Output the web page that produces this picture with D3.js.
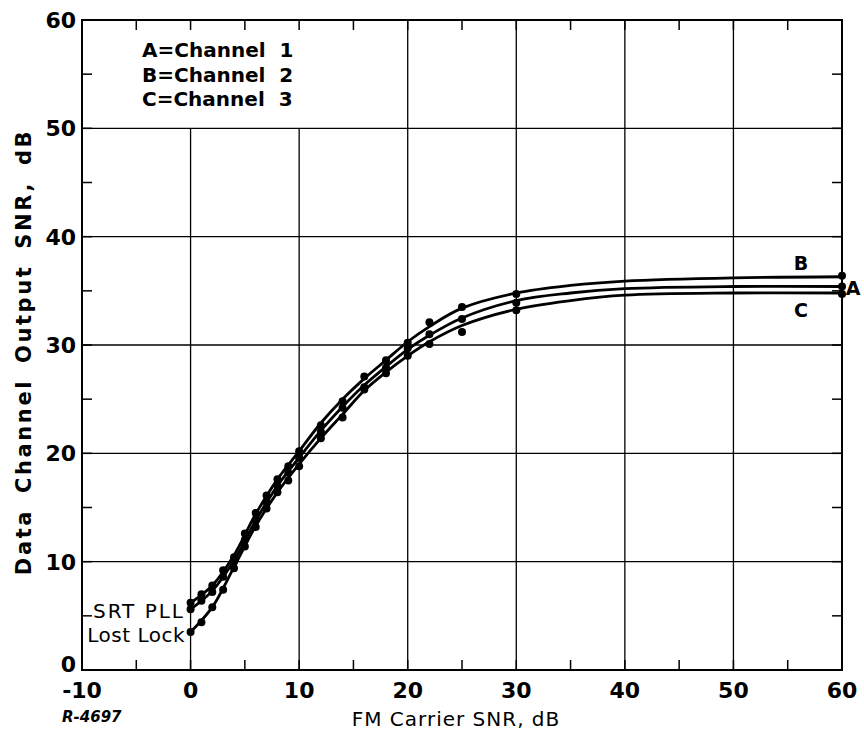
<!DOCTYPE html>
<html>
<head>
<meta charset="utf-8">
<script src="https://cdn.jsdelivr.net/npm/d3@7"></script>
<style>
  body { margin: 0; background: #fff; }
  svg { display: block; font-family: 'DejaVu Sans', sans-serif; }
</style>
</head>
<body>
<svg id="chart" width="864" height="732"></svg>
<script>
// measured points (FM carrier SNR, dB -> data channel output SNR, dB)
const pointX = [0, 1, 2, 3, 4, 5, 6, 7, 8, 9, 10, 12, 14, 16, 18, 20, 22, 25, 30, 60]
const pointsA = [5.6, 6.4, 7.2, 8.6, 10.0, 12.0, 13.8, 15.5, 17.0, 18.2, 19.6, 22.0, 24.2, 26.1, 27.9, 29.7, 31.0, 32.4, 33.9, 35.4]
const pointsB = [6.2, 7.0, 7.8, 9.2, 10.4, 12.6, 14.5, 16.1, 17.6, 18.8, 20.2, 22.6, 24.8, 27.1, 28.6, 30.2, 32.1, 33.5, 34.7, 36.4]
const pointsC = [3.5, 4.4, 5.8, 7.4, 9.4, 11.4, 13.2, 14.9, 16.4, 17.5, 18.8, 21.4, 23.3, 25.9, 27.4, 29.0, 30.1, 31.2, 33.2, 34.7]

// faired curves
const curveX = [0, 2, 4, 6, 8, 10, 12, 14, 16, 18, 20, 22, 25, 30, 35, 40, 50, 60]
const curveA = [5.6, 7.3, 10.1, 13.8, 17.0, 19.6, 22.1, 24.3, 26.3, 28.0, 29.6, 30.9, 32.5, 34.1, 34.8, 35.2, 35.4, 35.4]
const curveB = [6.2, 7.8, 10.6, 14.4, 17.6, 20.2, 22.8, 25.0, 26.9, 28.6, 30.3, 31.7, 33.4, 34.8, 35.5, 35.9, 36.2, 36.3]
const curveC = [3.5, 5.8, 9.5, 13.3, 16.4, 19.0, 21.4, 23.6, 25.8, 27.5, 29.0, 30.3, 31.8, 33.3, 34.1, 34.6, 34.8, 34.8]

const xTicks = [-10, 0, 10, 20, 30, 40, 50, 60]
const yTicks = [0, 10, 20, 30, 40, 50, 60]
const legendLines = ['A=Channel  1', 'B=Channel  2', 'C=Channel  3']

const svg = d3.select('#chart')
const x = d3.scaleLinear().domain([-10, 60]).range([82, 842])
const y = d3.scaleLinear().domain([0, 60]).range([670, 20])

// grid (legend corner -10..10 x 50..60 left blank)
const grid = svg.append('g').attr('stroke', '#000').attr('stroke-width', 1.3)
grid.selectAll('.vg').data(xTicks.slice(1, -1)).enter().append('line')
    .attr('x1', d => x(d)).attr('x2', d => x(d))
    .attr('y1', y(0)).attr('y2', d => d <= 10 ? y(50) : y(60))
grid.selectAll('.hg').data(yTicks.slice(1, -1)).enter().append('line')
    .attr('x1', x(-10)).attr('x2', x(60))
    .attr('y1', d => y(d)).attr('y2', d => y(d))

// frame
svg.append('rect')
    .attr('x', x(-10)).attr('y', y(60))
    .attr('width', x(60) - x(-10)).attr('height', y(0) - y(60))
    .attr('fill', 'none').attr('stroke', '#000').attr('stroke-width', 2)

// inward minor ticks every 5
const minorX = d3.range(-5, 60, 5)
const minorY = d3.range(5, 60, 5)
const tk = svg.append('g').attr('stroke', '#000').attr('stroke-width', 1.5)
minorX.forEach(v => {
    tk.append('line').attr('x1', x(v)).attr('x2', x(v)).attr('y1', y(0)).attr('y2', y(0) - 10)
    tk.append('line').attr('x1', x(v)).attr('x2', x(v)).attr('y1', y(60)).attr('y2', y(60) + 10)
})
minorY.forEach(v => {
    tk.append('line').attr('x1', x(-10)).attr('x2', x(-10) + 10).attr('y1', y(v)).attr('y2', y(v))
    tk.append('line').attr('x1', x(60)).attr('x2', x(60) - 10).attr('y1', y(v)).attr('y2', y(v))
})

// tick labels
svg.append('g').selectAll('text').data(xTicks).enter().append('text')
    .attr('x', d => x(d)).attr('y', 698)
    .attr('text-anchor', 'middle').attr('font-size', 22).attr('font-weight', 'bold')
    .text(d => d)
svg.append('g').selectAll('text').data(yTicks).enter().append('text')
    .attr('x', 76).attr('y', d => y(d) + 8 - (d === 0 ? 6 : 0))
    .attr('text-anchor', 'end').attr('font-size', 22).attr('font-weight', 'bold')
    .text(d => d)

// axis titles
svg.append('text')
    .attr('x', 456).attr('y', 726)
    .attr('text-anchor', 'middle').attr('font-size', 20).attr('letter-spacing', 1)
    .text('FM Carrier SNR, dB')
svg.append('text')
    .attr('transform', 'translate(31,352) rotate(-90)')
    .attr('text-anchor', 'middle').attr('font-size', 21).attr('font-weight', 'bold')
    .attr('letter-spacing', 2.6).attr('word-spacing', 6)
    .text('Data Channel Output SNR, dB')
svg.append('text')
    .attr('x', 62).attr('y', 722)
    .attr('font-size', 15).attr('font-style', 'italic').attr('font-weight', 'bold')
    .text('R-4697')

// legend
svg.append('g').selectAll('text').data(legendLines).enter().append('text')
    .attr('x', 142).attr('y', (d, i) => 57 + i * 24.5)
    .attr('font-size', 20).attr('font-weight', 'bold').attr('xml:space', 'preserve')
    .style('white-space', 'pre')
    .text(d => d)

// curves and points
const series = [
    { name: 'A', pts: pointsA, crv: curveA },
    { name: 'B', pts: pointsB, crv: curveB },
    { name: 'C', pts: pointsC, crv: curveC }
]
const line = d3.line().x(d => x(d[0])).y(d => y(d[1])).curve(d3.curveCatmullRom)
series.forEach(s => {
    svg.append('path')
        .datum(curveX.map((v, i) => [v, s.crv[i]]))
        .attr('d', line)
        .attr('fill', 'none').attr('stroke', '#000').attr('stroke-width', 2.8)
    svg.append('g').selectAll('circle')
        .data(pointX.map((v, i) => [v, s.pts[i]]))
        .enter().append('circle')
        .attr('cx', d => x(d[0])).attr('cy', d => y(d[1])).attr('r', 4)
        .attr('fill', '#000')
})

// curve labels
svg.append('text').attr('x', 801).attr('y', 270).attr('text-anchor', 'middle')
    .attr('font-size', 19).attr('font-weight', 'bold').text('B')
svg.append('text').attr('x', 853).attr('y', 295).attr('text-anchor', 'middle')
    .attr('font-size', 19).attr('font-weight', 'bold').text('A')
svg.append('text').attr('x', 801).attr('y', 317).attr('text-anchor', 'middle')
    .attr('font-size', 19).attr('font-weight', 'bold').text('C')

// lost lock note
svg.append('text').attr('x', 185).attr('y', 618).attr('text-anchor', 'end')
    .attr('font-size', 20).attr('letter-spacing', 2).text('SRT PLL')
svg.append('text').attr('x', 185).attr('y', 642).attr('text-anchor', 'end')
    .attr('font-size', 20).attr('letter-spacing', 0.5).text('Lost Lock')
</script>
</body>
</html>
